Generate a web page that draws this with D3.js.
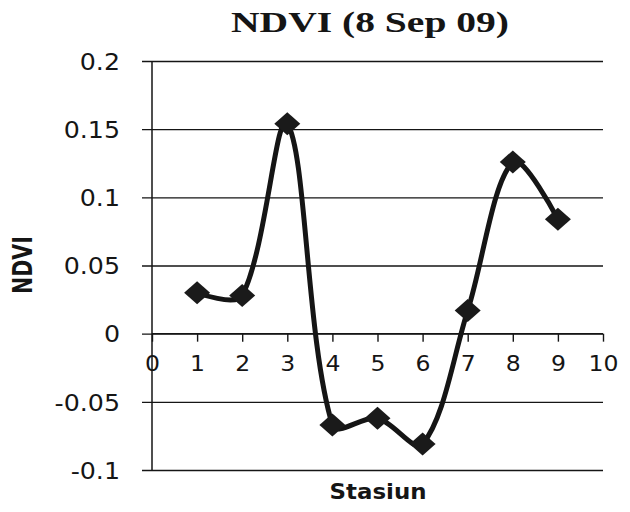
<!DOCTYPE html>
<html>
<head>
<meta charset="utf-8">
<script src="https://cdn.jsdelivr.net/npm/d3@7"></script>
<style>
  html, body { margin: 0; padding: 0; background: #fff; }
  svg { display: block; }
</style>
</head>
<body>
<svg id="chart" width="630" height="512"></svg>
<script>
const stations = [1, 2, 3, 4, 5, 6, 7, 8, 9];
const ndvi = [0.030, 0.028, 0.154, -0.067, -0.062, -0.081, 0.017, 0.126, 0.084];
const yTicks = [-0.1, -0.05, 0, 0.05, 0.1, 0.15, 0.2];
const xTicks = [0, 1, 2, 3, 4, 5, 6, 7, 8, 9, 10];
const titleText = "NDVI (8 Sep 09)";
const xTitle = "Stasiun";
const yTitle = "NDVI";

const svg = d3.select("#chart");
const ink = "#151515";

const x = d3.scaleLinear().domain([0, 10]).range([152, 603]);
const y = d3.scaleLinear().domain([-0.1, 0.2]).range([470, 61]);

function stretch(sel, k) {
  sel.each(function() {
    const len = this.getComputedTextLength();
    d3.select(this).attr("textLength", len * k).attr("lengthAdjust", "spacingAndGlyphs");
  });
}

// Spreadsheet-style smoothed curve (chord-weighted Catmull-Rom Bezier)
function SmoothCurve(context) { this._context = context; }
SmoothCurve.prototype = {
  areaStart() { this._line = 0; },
  areaEnd() { this._line = NaN; },
  lineStart() { this._pts = []; },
  point(px, py) { this._pts.push([+px, +py]); },
  lineEnd() {
    const p = this._pts, n = p.length, c = this._context;
    if (!n) return;
    c.moveTo(p[0][0], p[0][1]);
    if (n === 1) return;
    const dist = (a, b) => Math.hypot(b[0] - a[0], b[1] - a[1]);
    const outC = [], inC = [];
    for (let i = 0; i < n; i++) {
      if (i === 0 || i === n - 1) { outC[i] = p[i]; inC[i] = p[i]; continue; }
      const a = p[i - 1], b = p[i], d = p[i + 1];
      const tx = d[0] - a[0], ty = d[1] - a[1];
      const d1 = dist(a, b), d2 = dist(b, d), s = d1 + d2;
      outC[i] = [b[0] + tx * d2 / s / 3, b[1] + ty * d2 / s / 3];
      inC[i] = [b[0] - tx * d1 / s / 3, b[1] - ty * d1 / s / 3];
    }
    for (let i = 0; i < n - 1; i++) {
      c.bezierCurveTo(outC[i][0], outC[i][1], inC[i + 1][0], inC[i + 1][1], p[i + 1][0], p[i + 1][1]);
    }
  }
};
const curveSmooth = ctx => new SmoothCurve(ctx);

// Horizontal gridlines with left ticks
const yAxis = d3.axisLeft(y).tickValues(yTicks)
  .tickSize(0)
  .tickPadding(0)
  .tickFormat(d => String(+d.toFixed(2)));
const gy = svg.append("g").attr("transform", "translate(142,0)").call(yAxis);
gy.select(".domain").remove();
gy.selectAll(".tick line").attr("x1", 0).attr("x2", 603 - 142)
  .attr("stroke", ink).attr("stroke-width", 1.4);
gy.selectAll(".tick text")
  .attr("x", -22).attr("dy", "0.36em")
  .attr("fill", ink)
  .style("font-family", "'DejaVu Sans', sans-serif")
  .style("font-size", "23px");
stretch(gy.selectAll(".tick text"), 1.1);

// Vertical axis line
svg.append("line")
  .attr("x1", x(0)).attr("x2", x(0))
  .attr("y1", y(0.2)).attr("y2", y(-0.1))
  .attr("stroke", ink).attr("stroke-width", 1.5);

// X axis at y = 0
const xAxis = d3.axisBottom(x).tickValues(xTicks).tickSize(8).tickPadding(14).tickFormat(d3.format("d"));
const gx = svg.append("g").attr("transform", `translate(0,${y(0)})`).call(xAxis);
gx.select(".domain").attr("stroke", ink).attr("stroke-width", 1.4)
  .attr("d", `M${x(0)},0H${x(10)}`);
gx.selectAll(".tick line").attr("stroke", ink).attr("stroke-width", 1.4);
gx.selectAll(".tick text")
  .attr("fill", ink)
  .attr("y", 22)
  .style("font-family", "'DejaVu Sans', sans-serif")
  .style("font-size", "21px");
stretch(gx.selectAll(".tick text"), 1.12);

// Smoothed line
const pts = stations.map((s, i) => [s, ndvi[i]]);
const line = d3.line().x(d => x(d[0])).y(d => y(d[1])).curve(curveSmooth);
svg.append("path").datum(pts)
  .attr("d", line)
  .attr("fill", "none")
  .attr("stroke", ink)
  .attr("stroke-width", 5)
  .attr("stroke-linejoin", "round");

// Diamond markers
const hw = 13, hh = 11.5;
svg.append("g").selectAll("path").data(pts).join("path")
  .attr("d", d => {
    const cx = x(d[0]), cy = y(d[1]);
    return `M${cx},${cy - hh}L${cx + hw},${cy}L${cx},${cy + hh}L${cx - hw},${cy}Z`;
  })
  .attr("fill", "#1a1a1a");

// Title
svg.append("text")
  .attr("x", 370).attr("y", 32)
  .attr("text-anchor", "middle")
  .attr("fill", ink)
  .style("font-family", "'Liberation Serif', 'Times New Roman', serif")
  .style("font-weight", "bold")
  .style("font-size", "29px")
  .text(titleText)
  .attr("textLength", 278).attr("lengthAdjust", "spacingAndGlyphs");

// X title
svg.append("text")
  .attr("x", 378).attr("y", 499)
  .attr("text-anchor", "middle")
  .attr("fill", ink)
  .style("font-family", "'DejaVu Sans', sans-serif")
  .style("font-weight", "bold")
  .style("font-size", "22px")
  .text(xTitle)
  .attr("textLength", 97).attr("lengthAdjust", "spacingAndGlyphs");

// Y title
svg.append("text")
  .attr("transform", "translate(32,265) rotate(-90)")
  .attr("text-anchor", "middle")
  .attr("fill", ink)
  .style("font-family", "'DejaVu Sans', sans-serif")
  .style("font-weight", "bold")
  .style("font-size", "26px")
  .text(yTitle)
  .attr("textLength", 58).attr("lengthAdjust", "spacingAndGlyphs");
</script>
</body>
</html>
